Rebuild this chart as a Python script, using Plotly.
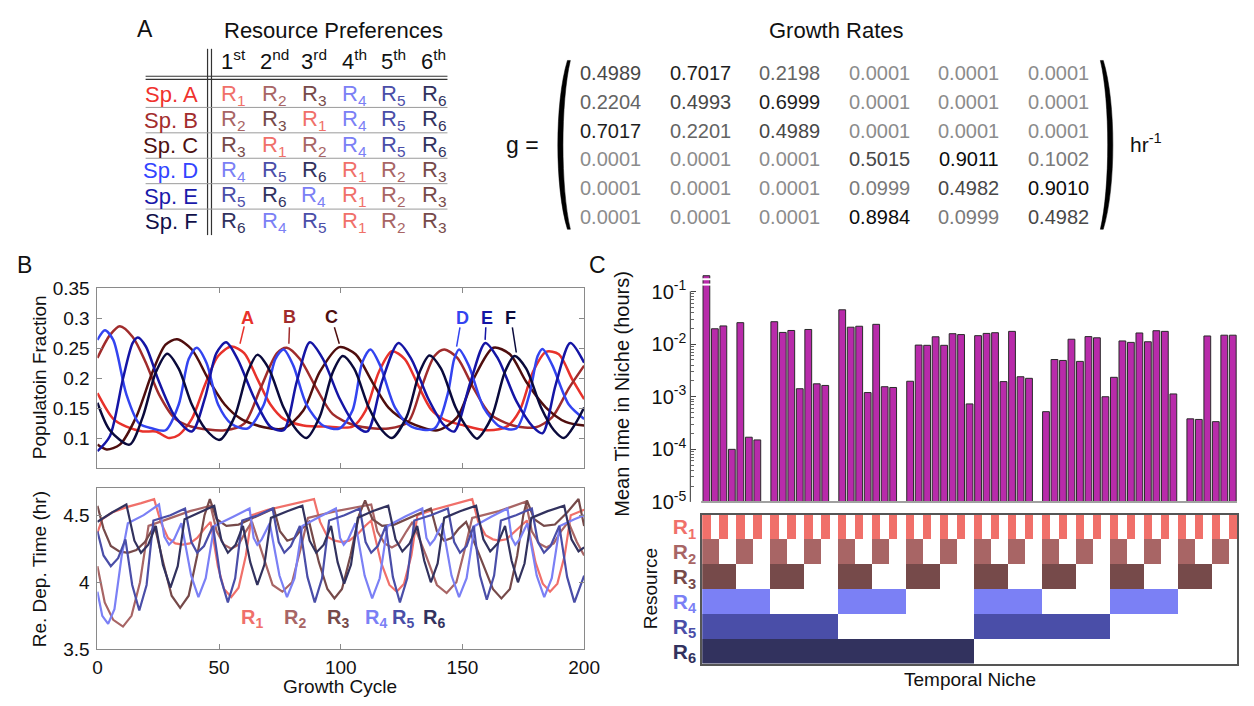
import numpy as np
import plotly.graph_objects as go

W, H = 1254, 706
FONT = "Liberation Sans, Arial, sans-serif"


def X(p):
    return p / W


def Y(p):
    return 1 - p / H


# ---------------- Panel A : data ----------------
species = ["Sp. A", "Sp. B", "Sp. C", "Sp. D", "Sp. E", "Sp. F"]
species_colors = ["#F0322D", "#A32D2D", "#4D1010", "#3344FF", "#1A1AAA", "#10104A"]
rank_labels = ["1<sup>st</sup>", "2<sup>nd</sup>", "3<sup>rd</sup>", "4<sup>th</sup>", "5<sup>th</sup>", "6<sup>th</sup>"]
preferences = [
    [1, 2, 3, 4, 5, 6],
    [2, 3, 1, 4, 5, 6],
    [3, 1, 2, 4, 5, 6],
    [4, 5, 6, 1, 2, 3],
    [5, 6, 4, 1, 2, 3],
    [6, 4, 5, 1, 2, 3],
]
resource_colors = ["#F0706A", "#A86565", "#764A4A", "#7B80F5", "#4A4EA8", "#32325E"]
growth_rates = [
    [0.4989, 0.7017, 0.2198, 0.0001, 0.0001, 0.0001],
    [0.2204, 0.4993, 0.6999, 0.0001, 0.0001, 0.0001],
    [0.7017, 0.2201, 0.4989, 0.0001, 0.0001, 0.0001],
    [0.0001, 0.0001, 0.0001, 0.5015, 0.9011, 0.1002],
    [0.0001, 0.0001, 0.0001, 0.0999, 0.4982, 0.9010],
    [0.0001, 0.0001, 0.0001, 0.8984, 0.0999, 0.4982],
]

# ---------------- Panel B : population fractions ----------------
line_colors = ["#E8322B", "#A02C2C", "#4F0E0E", "#3344F0", "#1515A5", "#0A0A3C"]
cyc_A = [0, 6.5, 11.9, 18.6, 24, 29.4, 33.4, 38.8, 44.2, 49.6, 55, 60.3, 65.7, 71.1, 76.5, 84.6, 95.4, 104.8, 110.2, 115.6, 121, 126.3, 131.7, 137.1, 142.5, 150.6, 160, 168.1, 173.5, 178.9, 184.3, 189.6, 195, 200]
frac_A = [0.175, 0.132, 0.119, 0.111, 0.111, 0.100, 0.105, 0.132, 0.189, 0.237, 0.253, 0.242, 0.199, 0.156, 0.132, 0.121, 0.119, 0.119, 0.146, 0.210, 0.245, 0.232, 0.189, 0.148, 0.131, 0.121, 0.113, 0.119, 0.146, 0.210, 0.244, 0.240, 0.199, 0.165]
cyc_B = [0, 5.1, 9.2, 14.5, 19.9, 25.3, 32, 38.8, 52.3, 60.3, 67, 73.8, 77.8, 83.2, 90, 96.7, 106, 119.6, 127.7, 133, 138.5, 142.5, 147.9, 154.6, 161.4, 170.8, 180.2, 186.9, 193.7, 200]
frac_B = [0.234, 0.272, 0.287, 0.269, 0.226, 0.173, 0.132, 0.119, 0.113, 0.124, 0.183, 0.242, 0.251, 0.232, 0.183, 0.140, 0.121, 0.116, 0.127, 0.183, 0.237, 0.248, 0.234, 0.183, 0.140, 0.121, 0.118, 0.135, 0.183, 0.221]
cyc_C = [0, 3.8, 9.2, 15.9, 22.6, 28, 32.7, 38.8, 45.5, 52.3, 59, 68.4, 76.5, 84.6, 91.3, 99.4, 106.1, 112.9, 119.6, 127.7, 139.8, 147.9, 154.6, 162.7, 169.5, 176.2, 184.3, 192.4, 200]
frac_C = [0.089, 0.081, 0.089, 0.135, 0.210, 0.256, 0.265, 0.248, 0.199, 0.156, 0.132, 0.118, 0.116, 0.146, 0.210, 0.252, 0.240, 0.194, 0.151, 0.127, 0.113, 0.135, 0.199, 0.251, 0.240, 0.194, 0.151, 0.127, 0.121]
cyc_D = [0, 3.1, 6.5, 11.9, 17.2, 22.6, 28, 33.4, 37.5, 40.8, 44.8, 49.6, 55, 61.7, 68.4, 73.1, 76.5, 80.5, 85.9, 92.7, 99.4, 104.8, 108.8, 112.2, 116.2, 122.3, 129, 138.5, 143.9, 146.6, 148.6, 152.6, 158.7, 165.4, 172.1, 177.5, 180.9, 182.9, 187, 193.7, 200]
frac_D = [0.264, 0.280, 0.264, 0.173, 0.124, 0.116, 0.113, 0.156, 0.232, 0.251, 0.226, 0.156, 0.124, 0.116, 0.156, 0.232, 0.248, 0.221, 0.156, 0.121, 0.116, 0.146, 0.226, 0.248, 0.221, 0.151, 0.119, 0.116, 0.173, 0.232, 0.248, 0.221, 0.151, 0.119, 0.116, 0.173, 0.237, 0.249, 0.221, 0.156, 0.132]
cyc_E = [0, 5.1, 10.5, 14.5, 16.6, 19.9, 25.3, 32, 38.8, 44.2, 48.9, 52.9, 57.6, 64.4, 71.1, 76.5, 81.9, 87.3, 92.7, 99.4, 106.1, 110.9, 116.9, 123.7, 129, 135.8, 142.5, 146.6, 153.3, 159.4, 164.7, 172.1, 178.9, 182.9, 188.3, 194.3, 200]
frac_E = [0.078, 0.103, 0.199, 0.259, 0.268, 0.253, 0.194, 0.135, 0.111, 0.167, 0.242, 0.260, 0.232, 0.167, 0.119, 0.113, 0.194, 0.260, 0.232, 0.167, 0.121, 0.111, 0.194, 0.259, 0.232, 0.167, 0.121, 0.111, 0.194, 0.259, 0.232, 0.162, 0.119, 0.108, 0.189, 0.259, 0.226]
cyc_F = [0, 5.1, 13.2, 18.6, 24, 28.7, 33.4, 38.8, 44.2, 50.2, 56.3, 61.7, 65.7, 70.4, 76.5, 81.9, 85.9, 91.3, 96.7, 100.8, 105.5, 111.5, 116.9, 121, 127, 132.4, 136.4, 141.2, 147.2, 152.6, 156, 162, 167.4, 171.4, 176.2, 182.3, 187.6, 191.7, 196.4, 200]
frac_F = [0.159, 0.113, 0.089, 0.135, 0.210, 0.241, 0.216, 0.156, 0.116, 0.097, 0.135, 0.210, 0.239, 0.216, 0.151, 0.113, 0.100, 0.135, 0.210, 0.237, 0.216, 0.151, 0.113, 0.100, 0.135, 0.210, 0.238, 0.216, 0.151, 0.113, 0.099, 0.135, 0.210, 0.237, 0.216, 0.151, 0.113, 0.100, 0.124, 0.151]

species_series = [(cyc_A, frac_A), (cyc_B, frac_B), (cyc_C, frac_C), (cyc_D, frac_D), (cyc_E, frac_E), (cyc_F, frac_F)]
species_letters = ["A", "B", "C", "D", "E", "F"]

# ---------------- Panel B : resource depletion times ----------------
cyc_R1 = [0, 2, 6, 12, 18, 23.3, 26, 29, 32, 35, 38, 41, 44, 46.5, 49.5, 52, 55, 58, 61, 63.5, 70, 80, 89,
          91.5, 94.5, 97.5, 100.5, 103.5, 107, 110, 112.5, 116.5, 120, 123, 126, 129, 131.5, 138, 146, 154,
          156.5, 159.5, 162.5, 165, 168, 171, 174, 176.5, 180, 183, 186, 189, 192, 194.5, 200]
dep_R1 = [4.37, 4.47, 4.52, 4.56, 4.59, 4.62, 4.45, 4.33, 4.29, 4.28, 4.29, 4.33, 4.40, 4.45, 4.12, 3.95, 3.89, 3.96, 4.20, 4.50, 4.54, 4.58, 4.62,
          4.45, 4.34, 4.31, 4.30, 4.31, 4.36, 4.42, 4.46, 4.15, 3.98, 3.93, 3.99, 4.20, 4.50, 4.54, 4.58, 4.62,
          4.45, 4.35, 4.32, 4.31, 4.32, 4.37, 4.42, 4.46, 4.15, 3.99, 3.93, 3.99, 4.20, 4.50, 4.54]
cyc_R2 = [0, 3, 6.5, 10.5, 14, 17.5, 21, 30, 38, 46.5, 49, 52, 55, 58, 61, 63.5, 68, 72, 76, 80, 83.5, 86.5,
          98, 112.5, 115, 118, 121, 124, 127, 129.5, 135, 139.5, 143.5, 147.5, 151, 154, 165, 176,
          178.5, 181.5, 184.5, 187.5, 190.5, 193.5, 197, 200]
dep_R2 = [4.12, 3.85, 3.72, 3.67, 3.75, 4.00, 4.42, 4.48, 4.53, 4.57, 4.38, 4.28, 4.25, 4.28, 4.38, 4.45, 4.20, 3.98, 3.93, 4.00, 4.25, 4.48,
          4.53, 4.58, 4.38, 4.29, 4.26, 4.29, 4.38, 4.45, 4.20, 3.98, 3.92, 4.00, 4.25, 4.48, 4.53, 4.60,
          4.38, 4.29, 4.26, 4.29, 4.38, 4.45, 4.30, 4.20]
cyc_R3 = [0, 2.5, 5.5, 9, 12.5, 16, 19.5, 23.5, 27, 30.5, 34, 37.5, 41, 44, 46.2, 49, 53, 58, 64, 70, 72.5,
          75, 78, 81, 84, 87, 91, 94.5, 97.4, 100.5, 104, 107.5, 110, 113, 117, 122, 128, 134, 137,
          139.5, 142.5, 145.5, 148.5, 151.5, 158, 162.5, 166, 169.5, 172.5, 175, 176.5, 179.5, 183.5, 188, 193, 197.7, 200]
dep_R3 = [4.57, 4.40, 4.27, 4.23, 4.22, 4.24, 4.30, 4.42, 4.15, 3.90, 3.81, 3.90, 4.20, 4.50, 4.62, 4.47, 4.42, 4.43, 4.48, 4.53, 4.55,
          4.38, 4.31, 4.33, 4.40, 4.45, 4.15, 3.95, 3.88, 3.95, 4.20, 4.50, 4.61, 4.47, 4.42, 4.43, 4.48, 4.53, 4.55,
          4.38, 4.31, 4.33, 4.40, 4.45, 4.15, 3.95, 3.88, 3.95, 4.20, 4.50, 4.61, 4.47, 4.42, 4.43, 4.52, 4.62, 4.42]
cyc_R4 = [0, 2, 4.4, 7, 10, 12.5, 19, 25.3, 27.5, 29.4, 31.5, 34.5, 38.5, 41.5, 44.5, 48, 56, 62.5,
          64.2, 65.7, 67.5, 70.8, 74.8, 77.9, 81, 84.2, 91.5, 98, 99.7, 101.2, 103, 106, 109.8, 112.9, 116, 119.2,
          126.5, 133.5, 135.2, 136.7, 138.5, 141.7, 145.5, 148.6, 151.7, 155, 162, 168.5,
          170.2, 171.7, 173.5, 176.7, 180.5, 183.6, 186.7, 190, 196, 200]
dep_R4 = [3.93, 3.75, 3.69, 3.80, 4.20, 4.44, 4.50, 4.58, 4.34, 4.28, 4.32, 4.44, 4.05, 3.89, 4.03, 4.42, 4.49, 4.55,
          4.33, 4.28, 4.32, 4.44, 4.05, 3.89, 4.03, 4.42, 4.49, 4.55, 4.33, 4.28, 4.32, 4.44, 4.05, 3.88, 4.03, 4.42,
          4.49, 4.55, 4.33, 4.28, 4.32, 4.44, 4.05, 3.89, 4.03, 4.42, 4.49, 4.55,
          4.33, 4.28, 4.32, 4.44, 4.05, 3.89, 4.03, 4.42, 4.47, 4.50]
cyc_R5 = [0, 2.5, 5.5, 8.5, 11.5, 14.3, 17.2, 20.2, 23, 30, 36, 38.6, 41, 43.8, 47.5, 50.5, 53.6, 56.6, 59.5, 66, 72,
          74.5, 76.8, 79.5, 83.2, 86.3, 89.3, 92.3, 95.2, 101.5, 107.8, 110.2, 112.5, 115.2, 118.5, 121.4, 124.3, 127.3, 130.2,
          137, 144, 146.6, 149, 151.7, 154.6, 157.2, 160, 163, 165.8, 172, 178.5,
          181, 183.5, 186.2, 189.8, 193, 196, 198.5, 200]
dep_R5 = [4.38, 4.20, 4.12, 4.18, 4.32, 3.98, 3.79, 3.98, 4.46, 4.50, 4.55, 4.30, 4.22, 4.27, 4.42, 4.04, 3.85, 4.03, 4.46, 4.50, 4.55,
          4.30, 4.22, 4.27, 4.42, 4.04, 3.85, 4.03, 4.46, 4.50, 4.55, 4.30, 4.22, 4.27, 4.42, 4.04, 3.85, 4.03, 4.46,
          4.50, 4.55, 4.30, 4.22, 4.27, 4.42, 4.05, 3.87, 4.05, 4.46, 4.50, 4.55,
          4.30, 4.22, 4.27, 4.42, 4.04, 3.85, 3.98, 4.05]
cyc_R6 = [0, 6, 11.9, 15.2, 17.9, 20.9, 24, 26.9, 30, 33, 35.8, 42, 48, 51, 53.6, 56.8, 59.8, 62.8, 65.7, 68.6, 71.3,
          78, 84.2, 87.2, 89.9, 93, 96, 98.7, 101.4, 104.2, 107, 113, 119.5, 122.5, 125.3, 128.3, 131.4, 134.3, 137, 139.8, 142.5,
          149, 155.6, 158.6, 161.4, 164.5, 167.5, 170.2, 172.8, 175.5, 178.3, 185, 191.8, 194.8, 197.7, 200]
dep_R6 = [4.45, 4.52, 4.58, 4.31, 4.22, 4.28, 4.42, 4.13, 3.96, 4.12, 4.47, 4.52, 4.57, 4.31, 4.22, 4.28, 4.42, 4.15, 3.98, 4.13, 4.48,
          4.53, 4.57, 4.31, 4.22, 4.28, 4.42, 4.15, 3.99, 4.13, 4.48, 4.53, 4.57, 4.32, 4.23, 4.29, 4.42, 4.16, 4.00, 4.14, 4.48,
          4.53, 4.57, 4.32, 4.23, 4.29, 4.42, 4.16, 4.00, 4.14, 4.48, 4.53, 4.57, 4.32, 4.23, 4.26]
resource_series = [(cyc_R1, dep_R1), (cyc_R2, dep_R2), (cyc_R3, dep_R3), (cyc_R4, dep_R4), (cyc_R5, dep_R5), (cyc_R6, dep_R6)]

# ---------------- Panel C : niches ----------------
niche_index = list(range(63))
mean_time = [
    0.20, 0.0196, 0.0222, 0.00010, 0.0256, 0.00017, 0.000151, None,
    0.0267, 0.0167, 0.0182, 0.00142, 0.0190, 0.00176, 0.00164, None,
    0.045, 0.0210, 0.0219, 0.00120, 0.0238, 0.00155, 0.00150, None,
    0.00197, 0.0096, 0.0095, 0.0138, 0.0095, 0.0158, 0.0152, 0.00073,
    0.0145, 0.0160, 0.0165, 0.00194, 0.0175, 0.00240, 0.00224, None,
    0.00052, 0.0051, 0.0049, 0.0124, 0.0047, 0.0139, 0.0132, 0.00100,
    0.00234, 0.0115, 0.0108, 0.0163, 0.0111, 0.0180, 0.0175, 0.00113,
    None, 0.00038, 0.00037, 0.0143, 0.000336, 0.0148, 0.0148,
]
# presence of each resource in each temporal niche (1 = present)
presence = [
    "10101010 10101010 10101010 10101010 10101010 10101010 10101010 1010101",
    "11001100 11001100 11001100 11001100 11001100 11001100 11001100 1100110",
    "11110000 11110000 11110000 11110000 11110000 11110000 11110000 1111000",
    "11111111 00000000 11111111 00000000 11111111 00000000 11111111 0000000",
    "11111111 11111111 00000000 00000000 11111111 11111111 00000000 0000000",
    "11111111 11111111 11111111 11111111 00000000 00000000 00000000 0000000",
]
resource_names = ["R<sub>1</sub>", "R<sub>2</sub>", "R<sub>3</sub>", "R<sub>4</sub>", "R<sub>5</sub>", "R<sub>6</sub>"]

fig = go.Figure()

for (cx, cy), col in zip(species_series, line_colors):
    fig.add_trace(go.Scatter(x=cx, y=cy, mode="lines", line=dict(color=col, width=2.5, shape="spline", smoothing=0.8),
                             xaxis="x", yaxis="y", showlegend=False, hoverinfo="skip"))
for (cx, cy), col in zip(resource_series, resource_colors):
    fig.add_trace(go.Scatter(x=cx, y=cy, mode="lines", line=dict(color=col, width=2.2),
                             xaxis="x2", yaxis="y2", showlegend=False, hoverinfo="skip"))
fig.add_trace(go.Bar(x=niche_index, y=mean_time, width=0.8,
                     marker=dict(color="#B82BAA", line=dict(color="#2A2A2A", width=1)),
                     xaxis="x3", yaxis="y3", showlegend=False, hoverinfo="skip"))
zmat = []
for r, row in enumerate(presence):
    bits = row.replace(" ", "")
    zmat.append([(r + 1) if b == "1" else 0 for b in bits])
cs = []
cols = ["#FFFFFF"] + resource_colors
for k, c in enumerate(cols):
    lo = max(0.0, (k - 0.5) / 6)
    hi = min(1.0, (k + 0.5) / 6)
    cs.append([lo, c])
    cs.append([hi, c])
fig.add_trace(go.Heatmap(z=zmat, x=niche_index, y=list(range(6)), colorscale=cs, zmin=0, zmax=6,
                         showscale=False, xaxis="x4", yaxis="y4", hoverinfo="skip"))

axis_common = dict(showline=True, linecolor="#8A8A8A", linewidth=1, mirror="ticks", ticks="inside",
                   ticklen=5, tickcolor="#8A8A8A", showgrid=False, zeroline=False,
                   tickfont=dict(size=19, color="#111", family=FONT))

layout = dict(
    width=W, height=H, autosize=False, margin=dict(l=0, r=0, t=0, b=0),
    paper_bgcolor="white", plot_bgcolor="white", font=dict(family=FONT, color="#111"),
    showlegend=False,
    xaxis=dict(domain=[X(94), X(589)], range=[0, 200], anchor="y", tickvals=[0, 50, 100, 150, 200],
               showticklabels=False, **axis_common),
    yaxis=dict(domain=[Y(472), Y(287)], range=[0.05, 0.35], anchor="x", ticklabelstandoff=3,
               tickvals=[0.1, 0.15, 0.2, 0.25, 0.3, 0.35], ticktext=["0.1", "0.15", "0.2", "0.25", "0.3", "0.35"],
               **axis_common),
    xaxis2=dict(domain=[X(94), X(589)], range=[0, 200], anchor="y2", tickvals=[0, 50, 100, 150, 200],
                ticklabelstandoff=1, **axis_common),
    yaxis2=dict(domain=[Y(659), Y(493)], range=[3.5, 4.7], anchor="x2", tickvals=[3.5, 4, 4.5], ticklabelstandoff=3,
                ticktext=["3.5", "4", "4.5"], **axis_common),
    xaxis3=dict(domain=[X(709), X(1253)], range=[-0.5, 62.5], anchor="y3", visible=False),
    yaxis3=dict(domain=[Y(507), Y(273)], type="log", range=[-5, -0.683], anchor="free", position=X(697),
                showline=False, showgrid=False, zeroline=False, ticks="inside", ticklen=5, tickcolor="#444",
                tickvals=[1e-5, 1e-4, 1e-3, 1e-2, 1e-1], ticklabelstandoff=4,
                ticktext=["10<sup>-5</sup>", "10<sup>-4</sup>", "10<sup>-3</sup>", "10<sup>-2</sup>", "10<sup>-1</sup>"],
                tickfont=dict(size=20, color="#111", family=FONT),
                minor=dict(ticks="inside", ticklen=2.5, tickcolor="#666",
                           tickvals=[k * 10.0 ** e for e in range(-5, -1) for k in range(2, 10)])),
    xaxis4=dict(domain=[X(709), X(1253)], range=[-0.5, 62.5], anchor="y4", showticklabels=False, ticks="",
                showline=True, mirror=True, linecolor="#555", linewidth=1.5, showgrid=False, zeroline=False),
    yaxis4=dict(domain=[Y(674), Y(520)], range=[5.5, -0.5], anchor="x4", tickvals=list(range(6)),
                ticktext=['<b><span style="color:%s">%s</span></b>' % (c, n) for c, n in zip(resource_colors, resource_names)],
                tickfont=dict(size=21, family=FONT), ticks="", showline=True, mirror=True, linecolor="#555",
                linewidth=1.5, showgrid=False, zeroline=False),
)
fig.update_layout(**layout)

ann = []
shapes = []


def text(x, y, t, size=19, color="#111", xanchor="center", yanchor="middle", angle=0):
    ann.append(dict(x=X(x), y=Y(y), xref="paper", yref="paper", text=t, showarrow=False,
                    font=dict(size=size, color=color, family=FONT), xanchor=xanchor, yanchor=yanchor,
                    textangle=angle))


def pline(x0, y0, x1, y1, color="#111", width=1):
    shapes.append(dict(type="line", xref="paper", yref="paper", x0=X(x0), y0=Y(y0), x1=X(x1), y1=Y(y1),
                       line=dict(color=color, width=width)))


text(142, 20, "A", size=23)
text(20, 263, "B", size=23)
text(603, 263, "C", size=23)

# --- table A ---
text(334, 21, "Resource Preferences", size=22)
col_x = [232, 274, 314, 355, 395, 436]
for j, lab in enumerate(rank_labels):
    text(col_x[j], 52, lab, size=22)
row_y = [87.3 + 26.2 * i for i in range(6)]
for i, sp in enumerate(species):
    text(198, row_y[i], sp, size=22, color=species_colors[i], xanchor="right")
    for j, r in enumerate(preferences[i]):
        text(col_x[j], row_y[i], "R<sub>%d</sub>" % r, size=22, color=resource_colors[r - 1])
pline(143, 68.3, 450, 68.3, "#333", 1.2)
pline(143, 71.5, 450, 71.5, "#333", 1.2)
pline(206, 40, 206, 232, "#333", 1.2)
pline(210, 40, 210, 232, "#333", 1.2)
for i in range(5):
    yy = (row_y[i] + row_y[i + 1]) / 2
    pline(143, yy, 450, yy, "#9A9A9A", 1)

# --- growth-rate matrix ---
text(846, 21, "Growth Rates", size=22)
text(526, 139, "g =", size=23)
mx = [616 + 91 * j for j in range(6)]
my = [65 + 29.6 * i for i in range(6)]
for i in range(6):
    for j in range(6):
        v = growth_rates[i][j]
        lev = int(round(np.interp(v, [0, 0.1, 0.22, 0.5, 0.7, 0.9], [140, 122, 100, 72, 30, 12])))
        text(mx[j], my[i], "%.4f" % v, size=20, color="rgb(%d,%d,%d)" % (lev, lev, lev))
text(1142, 137, "hr<sup>-1</sup>", size=21, xanchor="left")


def P(x, y):
    return "%.5f,%.5f" % (X(x), Y(y))


lp = "M %s C %s %s %s L %s C %s %s %s Z" % (P(572, 52), P(559, 95), P(559, 183), P(572, 226), P(575, 226),
                                             P(565, 183), P(565, 95), P(575, 52))
rp = "M %s C %s %s %s L %s C %s %s %s Z" % (P(1117, 52), P(1130, 95), P(1130, 183), P(1117, 226), P(1114, 226),
                                             P(1124, 183), P(1124, 95), P(1114, 52))
for pth in (lp, rp):
    shapes.append(dict(type="path", xref="paper", yref="paper", path=pth, fillcolor="#000",
                       line=dict(color="#000", width=0.5)))

# --- panel B labels ---
text(35, 378, "Populatoin Fraction", size=19, angle=-90)
text(35, 576, "Re. Dep. Time (hr)", size=19, angle=-90)
text(341, 697, "Growth Cycle", size=19)
lab_pos = [(246.7, 317, 243.3, 326, 239, 344), (289.3, 316, 289.3, 327, 288.7, 344),
           (331.7, 316, 335, 327, 340, 344), (465, 317, 462.7, 327, 459.3, 347),
           (490, 317, 489, 327, 488.3, 340), (514, 317, 516, 327, 520, 353)]
for (lx, ly, a0, b0, a1, b1), L, c in zip(lab_pos, species_letters, line_colors):
    text(lx, ly, "<b>%s</b>" % L, size=18, color=c)
    pline(a0, b0, a1, b1, c, 1.5)
rlab_x = [250.7, 295, 338.3, 377.3, 405, 436.7]
for x, n, c in zip(rlab_x, resource_names, resource_colors):
    text(x, 627, "<b>%s</b>" % n, size=20, color=c)

# --- panel C decorations ---
text(628, 395, "Mean Time in Niche (hours)", size=20, angle=-90)
text(656, 597, "Resource", size=19, angle=-90)
text(981, 690, "Temporal Niche", size=19)
pline(697, 290, 697, 507, "#333", 1)
pline(708, 507, 1253, 507, "#A0A0A0", 2)
for yb in (277.5, 283):
    pline(709, yb, 719, yb, "#FFFFFF", 2)

fig.update_layout(annotations=ann, shapes=shapes)
fig.write_html("out.html")
